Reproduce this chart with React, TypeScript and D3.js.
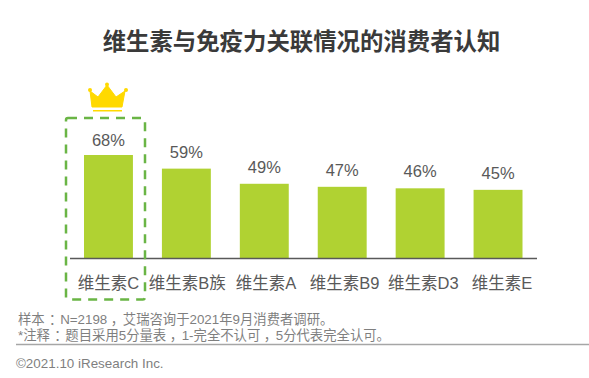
import React from "react";
import * as d3 from "d3";

const categories = ["维生素C", "维生素B族", "维生素A", "维生素B9", "维生素D3", "维生素E"];
const values = [68, 59, 49, 47, 46, 45];
const titleText = "维生素与免疫力关联情况的消费者认知";
const noteLines = ["样本：N=2198，艾瑞咨询于2021年9月消费者调研。", "*注释：题目采用5分量表，1-完全不认可，5分代表完全认可。"];
const copyright = "©2021.10 iResearch Inc.";
const font = "'Liberation Sans','Noto Sans CJK SC',sans-serif";

function Note({ text, y }: { text: string; y: number }) {
  const size = 13.35;
  const pad = size * 0.33;
  const parts = text.split(/([：，])/);
  let pending = 0;
  return (
    <text x={18} y={y} fontSize={size} fill="#7f7f7f">
      {parts.map((p, i) => {
        const isMark = p === "：" || p === "，";
        const dx = isMark ? pad : pending;
        pending = isMark ? pad : 0;
        return (
          <tspan key={i} dx={dx} style={isMark ? { fontFeatureSettings: '"palt"' } : undefined}>{p}</tspan>
        );
      })}
    </text>
  );
}

export default function App() {
  const x = d3.scaleBand<string>().domain(categories).range([84, 522.5]).paddingInner(0.372).paddingOuter(0);
  const xLabel = d3.scalePoint<string>().domain(categories).range([108.5, 502]);
  const y = d3.scaleLinear().domain([0, 68]).range([258, 155]);
  return (
    <svg width={589} height={378} style={{ position: "absolute", left: 0, top: 0, background: "#fff" }} fontFamily={font}>
      <text x={301.5} y={50} textAnchor="middle" fontSize={23.4} fontWeight={700} fill="#3a3a3a">{titleText}</text>
      {categories.map((c, i) => (
        <g key={c}>
          <rect x={x(c)} y={y(values[i])} width={x.bandwidth()} height={y(0) - y(values[i])} fill="#b0d232" />
          <text x={x(c)! + x.bandwidth() / 2} y={y(values[i]) - (i === 0 ? 9.5 : 11)} textAnchor="middle" fontSize={16.5} fill="#595959">{values[i]}%</text>
          <text x={xLabel(c)} y={289} textAnchor="middle" fontSize={16.5} fill="#595959">{c}</text>
        </g>
      ))}
      <line x1={70} x2={537} y1={258.5} y2={258.5} stroke="#595959" strokeWidth={1.5} />
      <rect x={66} y={118} width={79} height={181.5} rx={2} fill="none" stroke="#6ab545" strokeWidth={2.5} strokeDasharray="9 7" />
      <path d="M92 107 L90 91 L98 97 L107 85 L116 97 L125 91 L122 107 Z" fill="#ffd900" stroke="#ffd900" strokeLinejoin="round" />
      <circle cx={90} cy={90} r={2} fill="#ffd900" />
      <circle cx={107} cy={84.5} r={2} fill="#ffd900" />
      <circle cx={126} cy={90} r={2} fill="#ffd900" />
      <rect x={93} y={110} width={29} height={1.5} fill="#ffd900" />
      <Note text={noteLines[0]} y={324} />
      <Note text={noteLines[1]} y={340} />
      <line x1={16} x2={589} y1={344.5} y2={344.5} stroke="#a6a6a6" strokeWidth={1.5} />
      <text x={16} y={368} fontSize={13.4} fill="#7f7f7f">{copyright}</text>
    </svg>
  );
}
